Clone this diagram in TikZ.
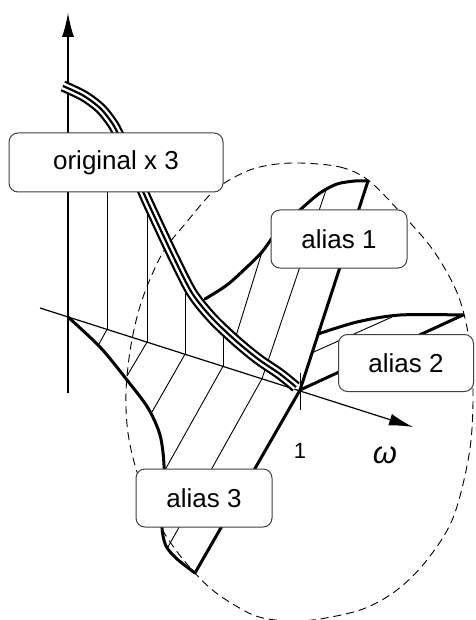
\documentclass[tikz,border=0pt]{standalone}
\usepackage{fontspec}
\setmainfont{Liberation Sans}
\usetikzlibrary{arrows.meta}
\begin{document}
\begin{tikzpicture}[x=1pt,y=-1pt,
  hair/.style={line width=0.9pt},
  axisline/.style={line width=1.2pt},
  thickline/.style={line width=3pt, line join=round, line cap=round},
  dashline/.style={line width=0.9pt, dash pattern=on 8pt off 5pt},
  triple/.style={line width=11.5pt, postaction={draw, white, line width=7pt}, postaction={draw, black, line width=2.2pt}},
  labelbox/.style={draw=black!75, line width=1pt, fill=white, rounded corners=9pt,
    minimum width=136pt, minimum height=58pt, inner sep=0pt,
    font=\fontsize{26}{30}\selectfont},
  tag/.style={inner sep=0pt, font=\fontsize{22}{26}\selectfont}
]
\useasboundingbox (0,0) rectangle (475,620);
\coordinate (ytip) at (68,13);
\coordinate (ybot) at (68,393);
\coordinate (O) at (68,317);
\coordinate (wstart) at (40,308);
\coordinate (wtip) at (413,427);
\coordinate (one) at (300,390);
\coordinate (a1top) at (368,181);
\coordinate (a2top) at (463,315);
\coordinate (a3bot) at (195,573);

% dashed closed region
\draw[dashline] plot[smooth cycle, tension=0.55] coordinates {
 (300,163) (340,167) (368,180) (400,212) (433,250) (458,295) (470,345)
 (473,400) (469,455) (453,518) (427,560) (397,590) (363,609) (320,619)
 (290,621) (263,618) (243,610) (210,588) (178,553) (154,515) (137,472)
 (128,433) (126,392) (131,345) (142,300) (162,254) (185,224) (215,190)
 (245,172) (270,165)};

% verticals of the original
\draw[hair] (107,140) -- (107,329.4);
\draw[hair] (147,203) -- (147,342.1);
\draw[hair] (185,280) -- (185,354.2);
\draw[hair] (223,322) -- (223,366.3);

% hatching of alias 3
\draw[hair] (107,329.4) -- (99,344);
\draw[hair] (147,342.1) -- (127,376);
\draw[hair] (185,354.2) -- (152,412);
\draw[hair] (223,366.3) -- (165,470);
% hatching of alias 1 (continued into alias 3)
\draw[hair] (262,252) -- (236,336);
\draw[hair] (326,190) -- (262,378.7) -- (168,547);
% hatching of alias 2
\draw[hair] (311.5,353) -- (392,317);

% axes
\draw[axisline, -{Latex[length=24pt,width=12pt]}] (ybot) -- (ytip);
\draw[axisline, -{Latex[length=24pt,width=12pt]}] (wstart) -- (wtip);
\draw[hair] (300,373) -- (300,410);

% alias 3
\draw[thickline] plot[smooth] coordinates {(O) (100,347) (127,380) (148,408)
  (160,435) (164,465) (163,500) (162,528) (166,546) (177,559) (a3bot)};
\draw[thickline] (a3bot) -- (one) -- (a1top);
% alias 1
\draw[thickline] plot[smooth] coordinates {(205,299) (227,285) (247,267) (262,252)
  (274,236) (300,210) (320,193) (337,184) (355,181) (a1top)};
% alias 2
\draw[thickline] (one) -- (a2top);
\draw[thickline] plot[smooth] coordinates {(318,334) (357,322) (400,315) (a2top)};

% original (three strands)
\draw[triple] plot[smooth] coordinates {(63,86) (84,96) (101,109) (114,126)
  (124,147) (134,170) (145,196) (157,222) (174,258) (192,293) (212,318) (235,340)
  (258,359) (280,374) (296,387)};

% labels
\node[labelbox, minimum width=214pt, minimum height=59pt] (orig) at (116,162.5) {original x 3};
\node[labelbox] (al1) at (339,239) {alias 1};
\node[labelbox, minimum width=135pt, minimum height=57pt] (al2) at (406,363) {alias 2};
\node[labelbox] (al3) at (204,498) {alias 3};
\node[tag] (lone) at (300,451) {1};
\node[inner sep=0pt, font=\fontsize{31}{34}\selectfont\itshape] (lw) at (385,455) {ω};
\end{tikzpicture}
\end{document}
